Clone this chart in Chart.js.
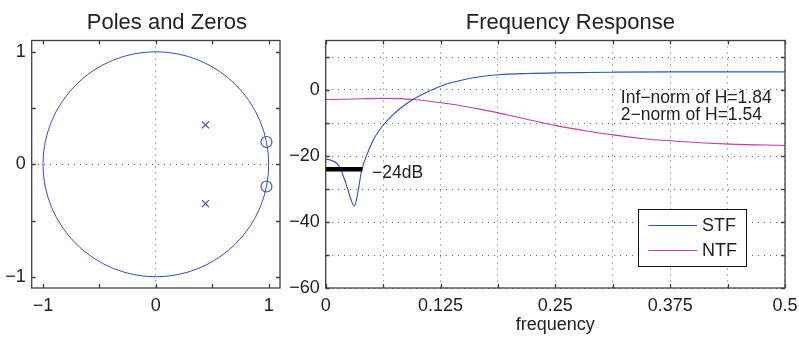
<!DOCTYPE html>
<html lang="en">
<head>
  <meta charset="UTF-8">
  <title>Poles and Zeros / Frequency Response</title>
  <script src="https://cdn.jsdelivr.net/npm/chart.js@4.4.1/dist/chart.umd.min.js"></script>
  <style>
    body { margin: 0; background: #fff; }
    #wrap { position: relative; width: 799px; height: 338px; }
    #pz { position: absolute; left: 0; top: 0; width: 300px; height: 338px; }
    #fr { position: absolute; left: 280px; top: 0; width: 519px; height: 338px; }
  </style>
</head>
<body>
  <div id="wrap">
    <canvas id="pz" width="300" height="338"></canvas>
    <canvas id="fr" width="519" height="338"></canvas>
  </div>
  <script>
    // pole / zero locations (real, imaginary)
    const poleRe = [0.44, 0.44];
    const poleIm = [0.35, -0.35];
    const zeroRe = [0.98, 0.98];
    const zeroIm = [0.198, -0.198];
    const unitRadius = 1;

    // frequency response (dB)
    const stfFreq = [0, 0.006, 0.012, 0.016, 0.019, 0.022, 0.025, 0.028, 0.031, 0.033, 0.0355, 0.039, 0.045, 0.052, 0.060, 0.070, 0.081, 0.0953, 0.1135, 0.1317, 0.15, 0.168, 0.188, 0.22, 0.25, 0.3125, 0.375, 0.44, 0.5];
    const stfDb = [-20.9, -21.3, -22.2, -23.8, -26.0, -28.3, -31.0, -33.6, -35.1, -33.8, -30.3, -24.5, -19.5, -15.0, -11.6, -8.4, -5.6, -2.8, -0.2, 1.8, 3.1, 4.0, 4.6, 5.0, 5.2, 5.4, 5.5, 5.5, 5.5];
    const ntfFreq = [0, 0.02, 0.04, 0.06, 0.08, 0.0953, 0.1135, 0.1317, 0.15, 0.168, 0.197, 0.226, 0.251, 0.284, 0.313, 0.342, 0.375, 0.44, 0.5];
    const ntfDb = [-2.9, -2.8, -2.65, -2.55, -2.6, -2.9, -3.4, -4.1, -4.9, -5.8, -7.5, -9.3, -10.8, -12.4, -13.6, -14.6, -15.4, -16.4, -16.8];
    const markFreq = [0, 0.04];
    const markDb = [-24, -24];

    const BLUE = '#3152b7';
    const MAGENTA = '#c23fa0';
    const FRAME = '#404040';
    const MINUS = '\u2212';
    const fmt = v => (v < 0 ? MINUS : '') + Math.abs(v);
    const pts = (xs, ys) => xs.map((x, i) => ({ x: x, y: ys[i] }));

    Chart.defaults.font.family = '"Liberation Sans", Arial, Helvetica, sans-serif';
    Chart.defaults.font.size = 18;
    Chart.defaults.color = '#222';
    Chart.defaults.animation = false;

    // box, inward tick marks and title (matlab style)
    const axesBox = {
      id: 'axesBox',
      afterDatasetsDraw(chart, args, o) {
        const { ctx, chartArea: a } = chart;
        const sx = chart.scales.x, sy = chart.scales.y;
        ctx.save();
        ctx.strokeStyle = FRAME;
        ctx.lineWidth = 1.3;
        ctx.beginPath();
        sx.ticks.forEach(t => {
          const p = Math.round(sx.getPixelForValue(t.value)) + 0.5;
          ctx.moveTo(p, a.bottom); ctx.lineTo(p, a.bottom - o.tick);
          ctx.moveTo(p, a.top); ctx.lineTo(p, a.top + o.tick);
        });
        sy.ticks.forEach(t => {
          const p = Math.round(sy.getPixelForValue(t.value)) + 0.5;
          ctx.moveTo(a.left, p); ctx.lineTo(a.left + o.tick, p);
          ctx.moveTo(a.right, p); ctx.lineTo(a.right - o.tick, p);
        });
        ctx.stroke();
        ctx.strokeRect(a.left, a.top, a.right - a.left, a.bottom - a.top);
        ctx.fillStyle = '#222';
        ctx.font = o.titleFont;
        ctx.textAlign = 'center';
        ctx.textBaseline = 'alphabetic';
        ctx.fillText(o.title, (a.left + a.right) / 2 + o.titleShift, o.titleY);
        ctx.restore();
      }
    };

    const unitCircle = {
      id: 'unitCircle',
      beforeDatasetsDraw(chart, args, o) {
        const { ctx, scales: { x, y } } = chart;
        const cx = x.getPixelForValue(0), cy = y.getPixelForValue(0);
        const rx = x.getPixelForValue(o.r) - cx, ry = cy - y.getPixelForValue(o.r);
        ctx.save();
        ctx.strokeStyle = o.color;
        ctx.lineWidth = 1;
        ctx.beginPath();
        ctx.ellipse(cx, cy, rx, ry, 0, 0, 2 * Math.PI);
        ctx.stroke();
        ctx.restore();
      }
    };

    // text annotations + boxed legend
    const notes = {
      id: 'notes',
      afterDatasetsDraw(chart, args, o) {
        const { ctx, chartArea: a, scales: { x, y } } = chart;
        ctx.save();
        ctx.font = o.font;
        ctx.textBaseline = 'middle';
        ctx.textAlign = 'left';
        ctx.fillStyle = '#222';
        o.items.forEach(n => ctx.fillText(n.text, x.getPixelForValue(n.x), y.getPixelForValue(n.y)));

        const L = o.legend;
        const bx = a.right - L.right - L.w, by = a.bottom - L.bottom - L.h;
        ctx.fillStyle = '#fff';
        ctx.fillRect(bx, by, L.w, L.h);
        ctx.strokeStyle = '#111';
        ctx.lineWidth = 1;
        ctx.strokeRect(Math.round(bx) + 0.5, Math.round(by) + 0.5, L.w, L.h);
        ctx.font = L.font;
        chart.data.datasets.filter(d => !d.hideInLegend).forEach((d, i) => {
          const ly = Math.round(by + L.first + i * L.gap) + 0.5;
          ctx.strokeStyle = d.borderColor;
          ctx.lineWidth = 1.2;
          ctx.beginPath();
          ctx.moveTo(bx + L.lineX0, ly);
          ctx.lineTo(bx + L.lineX1, ly);
          ctx.stroke();
          ctx.fillStyle = '#222';
          ctx.fillText(d.label, bx + L.textX, ly + 1);
        });
        ctx.restore();
      }
    };

    const dotted = [1, 5];
    // keep the plot box where it is, whatever the edge labels need
    const fitX = s => { s.height = 50; s.paddingLeft = 0; s.paddingRight = 0; };

    new Chart(document.getElementById('pz'), {
      type: 'scatter',
      data: {
        datasets: [
          { label: 'poles', data: pts(poleRe, poleIm), pointStyle: 'crossRot', pointRadius: 5, pointBorderWidth: 1.2, borderColor: BLUE, backgroundColor: BLUE },
          { label: 'zeros', data: pts(zeroRe, zeroIm), pointStyle: 'circle', pointRadius: 5.5, pointBorderWidth: 1.1, borderColor: BLUE, backgroundColor: 'rgba(0,0,0,0)' }
        ]
      },
      options: {
        responsive: false,
        layout: { padding: { top: 40.5, right: 20, left: 0, bottom: 0 } },
        scales: {
          x: {
            type: 'linear', min: -1.1, max: 1.1,
            ticks: { stepSize: 0.5, includeBounds: false, autoSkip: false, maxRotation: 0, padding: 7,
                     callback: v => Number.isInteger(v) ? fmt(v) : '' },
            grid: { drawTicks: false, lineWidth: 1, color: c => (c.tick && c.tick.value === 0) ? '#555' : 'rgba(0,0,0,0)' },
            border: { display: false, dash: dotted },
            afterFit: fitX
          },
          y: {
            type: 'linear', min: -1.1, max: 1.1,
            ticks: { stepSize: 0.5, includeBounds: false, autoSkip: false, padding: 6,
                     callback: v => Number.isInteger(v) ? fmt(v) : '' },
            grid: { drawTicks: false, lineWidth: 1, color: c => (c.tick && c.tick.value === 0) ? '#555' : 'rgba(0,0,0,0)' },
            border: { display: false, dash: dotted },
            afterFit: s => { s.width = 31.7; s.paddingTop = 0; s.paddingBottom = 0; }
          }
        },
        plugins: {
          legend: { display: false },
          tooltip: { enabled: false },
          unitCircle: { r: unitRadius, color: BLUE },
          axesBox: { tick: 4, title: 'Poles and Zeros', titleFont: '22px "Liberation Sans", Arial, sans-serif', titleShift: 11, titleY: 28.5 }
        }
      },
      plugins: [unitCircle, axesBox]
    });

    new Chart(document.getElementById('fr'), {
      type: 'line',
      data: {
        datasets: [
          { label: 'STF', data: pts(stfFreq, stfDb), borderColor: BLUE, borderWidth: 1.1, pointRadius: 0, cubicInterpolationMode: 'monotone', order: 1 },
          { label: 'NTF', data: pts(ntfFreq, ntfDb), borderColor: MAGENTA, borderWidth: 1.1, pointRadius: 0, cubicInterpolationMode: 'monotone', order: 2 },
          { label: '-24dB', data: pts(markFreq, markDb), borderColor: '#000', borderWidth: 4.5, pointRadius: 0, borderCapStyle: 'butt', hideInLegend: true, order: 0 }
        ]
      },
      options: {
        responsive: false,
        layout: { padding: { top: 40.5, right: 14, left: 0, bottom: 0 } },
        scales: {
          x: {
            type: 'linear', min: 0, max: 0.5,
            ticks: { stepSize: 0.0625, autoSkip: false, maxRotation: 0, padding: 7,
                     callback: v => ((v * 8) % 1 === 0) ? String(v) : '' },
            grid: { drawTicks: false, lineWidth: 1, color: '#666' },
            border: { display: false, dash: dotted },
            title: { display: true, text: 'frequency', font: { size: 18 }, padding: { top: 0, bottom: 2 } },
            afterFit: fitX
          },
          y: {
            type: 'linear', min: -60, max: 15,
            ticks: { stepSize: 10, includeBounds: false, autoSkip: false, padding: 6,
                     callback: v => (v % 20 === 0) ? fmt(v) : '' },
            grid: { drawTicks: false, lineWidth: 1, color: '#666' },
            border: { display: false, dash: dotted },
            afterFit: s => { s.width = 45.7; s.paddingTop = 0; s.paddingBottom = 0; }
          }
        },
        plugins: {
          legend: { display: false },
          tooltip: { enabled: false },
          axesBox: { tick: 4, title: 'Frequency Response', titleFont: '22px "Liberation Sans", Arial, sans-serif', titleShift: 15, titleY: 28.5 },
          notes: {
            font: '17.5px "Liberation Sans", Arial, sans-serif',
            items: [
              { text: MINUS + '24dB', x: 0.0505, y: -25.1 },
              { text: 'Inf' + MINUS + 'norm of H=1.84', x: 0.3213, y: -2.5 },
              { text: '2' + MINUS + 'norm of H=1.54', x: 0.3213, y: -7.5 }
            ],
            legend: { w: 108, h: 57, right: 39.3, bottom: 22, first: 15.7, gap: 25, lineX0: 10.7, lineX1: 59.4, textX: 64.4,
                      font: '18px "Liberation Sans", Arial, sans-serif' }
          }
        }
      },
      plugins: [axesBox, notes]
    });
  </script>
</body>
</html>
